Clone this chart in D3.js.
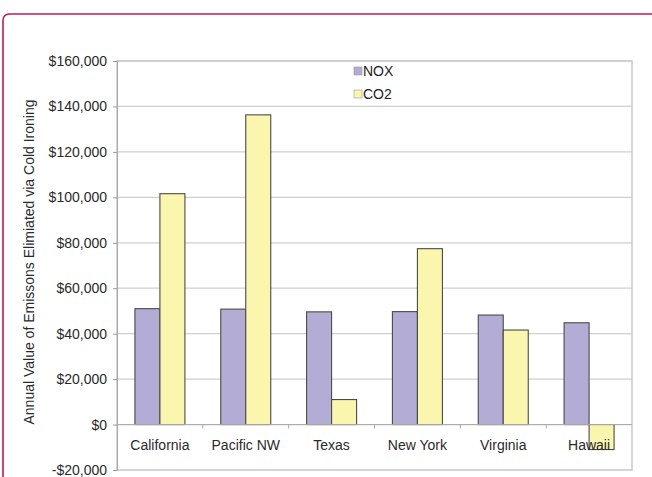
<!DOCTYPE html>
<html><head><meta charset="utf-8">
<script src="https://cdn.jsdelivr.net/npm/d3@7"></script>
<style>body{margin:0;background:#fff}svg{display:block}</style>
</head><body><svg id="c" width="652" height="477"></svg>
<script>
const categories = ["California","Pacific NW","Texas","New York","Virginia","Hawaii"];
const seriesNames = ["NOX","CO2"];
const noxValues = [51000, 50800, 49600, 49700, 48200, 44800];
const co2Values = [101600, 136300, 11000, 77400, 41600, -11000];
const yTicks = [-20000,0,20000,40000,60000,80000,100000,120000,140000,160000];
const colors = ["#b3acd4","#fbf6ae"];

const svg = d3.select("#c");
const font = "Liberation Sans, Arial, sans-serif";
// outer rounded frame
svg.append("rect").attr("x",3).attr("y",14).attr("width",720).attr("height",540)
  .attr("rx",6).attr("fill","none").attr("stroke","#c2185b").attr("stroke-width",1.6);

const L=117, R=632, T=61, B=470;
const x = d3.scaleBand().domain(categories).range([L,R]).paddingInner(0).paddingOuter(0);
const y = d3.scaleLinear().domain([-20000,160000]).range([B,T]);

// gridlines
svg.append("g").selectAll("line").data(yTicks.filter(d=>d!==-20000)).join("line")
  .attr("x1",L).attr("x2",R).attr("y1",d=>y(d)).attr("y2",d=>y(d))
  .attr("stroke","#cfcfcf").attr("stroke-width",1.2);
// plot frame
svg.append("rect").attr("x",L).attr("y",T).attr("width",R-L).attr("height",B-T)
  .attr("fill","none").attr("stroke","#c8c8c8").attr("stroke-width",1.5);

// bars
const data = categories.map((c,i)=>({c, vals:[noxValues[i], co2Values[i]]}));
const g = svg.append("g");
data.forEach(d=>{
  d.vals.forEach((v,j)=>{
    const bx = x(d.c) + x.bandwidth()/2 - 25 + j*25;
    g.append("rect").attr("x",bx).attr("width",25)
      .attr("y",y(Math.max(0,v))).attr("height",Math.abs(y(v)-y(0)))
      .attr("fill",colors[j]).attr("stroke","#4a4a4a").attr("stroke-width",1.1);
  });
});

// y axis
const yAxis = d3.axisLeft(y).tickValues(yTicks).tickSize(4).tickPadding(6)
  .tickFormat(d=> (d<0?"-$":"$") + d3.format(",")(Math.abs(d)));
const ya = svg.append("g").attr("transform",`translate(${L},0)`).call(yAxis);
ya.select(".domain").attr("stroke","#aaa");
ya.selectAll(".tick line").attr("stroke","#999");
ya.selectAll("text").attr("font-family",font).attr("font-size",14).attr("fill","#2a2a2a");

// x axis at zero
const xa = svg.append("g").attr("transform",`translate(0,${y(0)})`);
xa.append("line").attr("x1",L).attr("x2",R).attr("stroke","#aaa");
xa.selectAll(".tk").data(categories.slice(1)).join("line")
  .attr("x1",d=>x(d)).attr("x2",d=>x(d)).attr("y1",0).attr("y2",4).attr("stroke","#aaa");
xa.selectAll("text").data(categories).join("text")
  .attr("x",d=>x(d)+x.bandwidth()/2).attr("y",25).attr("text-anchor","middle")
  .attr("font-family",font).attr("font-size",14).attr("fill","#2a2a2a").text(d=>d);

// y title
svg.append("text").attr("transform",`translate(34,${262}) rotate(-90)`)
  .attr("text-anchor","middle").attr("font-family",font).attr("font-size",14).attr("fill","#2a2a2a")
  .text("Annual Value of Emissons Elimiated via Cold Ironing");

// legend
const lg = svg.append("g");
seriesNames.forEach((s,i)=>{
  lg.append("rect").attr("x",354).attr("y",67+i*23).attr("width",8).attr("height",8)
    .attr("fill",colors[i]).attr("stroke","#999").attr("stroke-width",0.6);
  lg.append("text").attr("x",363).attr("y",76+i*23).attr("font-family",font)
    .attr("font-size",14).attr("fill","#222").text(s);
});
</script></body></html>
